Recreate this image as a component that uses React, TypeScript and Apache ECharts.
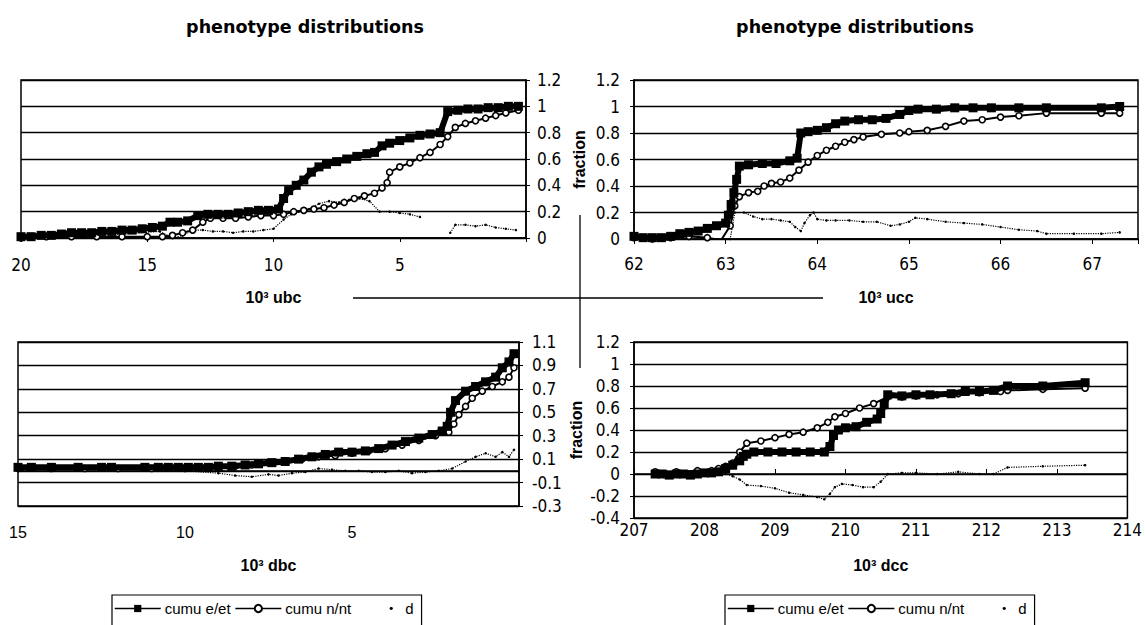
import React, { useEffect, useRef } from "react";
import * as echarts from "echarts";

// ---------- texts ----------
const chartTitle = "phenotype distributions";
const seriesNames = ["cumu e/et", "cumu n/nt", "d"];
const axisNames = ["10³ ubc", "10³ ucc", "10³ dbc", "10³ dcc"];
const yName = "fraction";

// ---------- top-left : ubc ----------
const ubcE = [[20.0,0.01],[19.6,0.01],[19.2,0.02],[18.8,0.02],[18.4,0.03],[18.0,0.04],[17.6,0.04],[17.2,0.04],[16.8,0.05],[16.4,0.05],[16.0,0.06],[15.6,0.06],[15.2,0.07],[14.8,0.08],[14.4,0.09],[14.1,0.12],[13.8,0.12],[13.4,0.13],[13.0,0.17],[12.6,0.18],[12.2,0.18],[11.8,0.18],[11.4,0.19],[11.0,0.2],[10.6,0.21],[10.2,0.21],[9.8,0.22],[9.6,0.3],[9.4,0.36],[9.1,0.4],[8.8,0.44],[8.5,0.5],[8.2,0.54],[7.9,0.56],[7.5,0.58],[7.1,0.6],[6.7,0.62],[6.3,0.64],[6.0,0.65],[5.7,0.7],[5.4,0.72],[5.0,0.74],[4.6,0.76],[4.2,0.78],[3.8,0.79],[3.4,0.8],[3.1,0.96],[2.7,0.97],[2.3,0.98],[1.9,0.98],[1.5,0.99],[1.1,0.99],[0.7,1.0],[0.3,1.0]];
const ubcN = [[20.0,0.0],[19.0,0.01],[18.0,0.01],[17.0,0.01],[16.0,0.01],[15.0,0.01],[14.4,0.01],[14.0,0.02],[13.6,0.04],[13.2,0.06],[12.8,0.12],[12.5,0.15],[12.0,0.15],[11.5,0.15],[11.0,0.16],[10.5,0.17],[10.0,0.17],[9.6,0.18],[9.2,0.2],[8.8,0.21],[8.4,0.22],[8.0,0.23],[7.6,0.25],[7.2,0.27],[6.8,0.3],[6.4,0.32],[6.0,0.34],[5.7,0.38],[5.5,0.42],[5.4,0.5],[5.0,0.54],[4.6,0.57],[4.2,0.61],[3.8,0.65],[3.4,0.71],[3.1,0.77],[2.8,0.84],[2.4,0.87],[2.0,0.89],[1.6,0.91],[1.2,0.93],[0.8,0.95],[0.3,0.97]];
const ubcD = [[20.0,0.01],[18.0,0.02],[16.0,0.03],[14.5,0.05],[14.0,0.0],[13.6,0.02],[13.2,0.06],[12.8,0.06],[12.4,0.05],[12.0,0.05],[11.6,0.04],[11.2,0.05],[10.8,0.05],[10.4,0.06],[10.0,0.07],[9.6,0.14],[9.3,0.18],[9.0,0.2],[8.6,0.22],[8.2,0.26],[7.8,0.28],[7.4,0.27],[7.0,0.29],[6.6,0.3],[6.2,0.28],[5.8,0.2],[5.4,0.2],[5.0,0.19],[4.6,0.18],[4.2,0.16],[3.6,"-"],[3.0,0.04],[2.8,0.1],[2.4,0.1],[2.0,0.09],[1.6,0.1],[1.2,0.08],[0.8,0.07],[0.4,0.06]];

// ---------- top-right : ucc ----------
const uccE = [[62.0,0.02],[62.1,0.01],[62.2,0.01],[62.3,0.01],[62.4,0.02],[62.5,0.04],[62.6,0.05],[62.7,0.06],[62.8,0.08],[62.9,0.1],[63.0,0.12],[63.03,0.18],[63.06,0.26],[63.09,0.35],[63.12,0.45],[63.15,0.55],[63.25,0.56],[63.4,0.57],[63.55,0.57],[63.7,0.59],[63.78,0.61],[63.82,0.8],[63.9,0.81],[64.0,0.82],[64.1,0.84],[64.2,0.87],[64.3,0.89],[64.45,0.9],[64.6,0.9],[64.75,0.91],[64.9,0.94],[65.0,0.97],[65.1,0.98],[65.3,0.98],[65.5,0.99],[65.7,0.99],[65.9,0.99],[66.2,0.99],[66.5,0.99],[67.1,0.99],[67.3,1.0]];
const uccN = [[62.0,0.01],[62.2,0.0],[62.4,0.01],[62.6,0.02],[62.8,0.01],[62.95,-0.01],[63.05,0.1],[63.1,0.25],[63.15,0.32],[63.25,0.35],[63.35,0.36],[63.42,0.4],[63.5,0.42],[63.6,0.43],[63.7,0.46],[63.8,0.52],[63.9,0.58],[64.0,0.63],[64.1,0.67],[64.2,0.7],[64.3,0.73],[64.4,0.75],[64.5,0.77],[64.7,0.79],[64.9,0.8],[65.0,0.81],[65.2,0.82],[65.4,0.85],[65.6,0.89],[65.8,0.9],[66.0,0.92],[66.2,0.93],[66.5,0.95],[67.1,0.95],[67.3,0.95]];
const uccD = [[62.0,0.01],[62.3,0.01],[62.6,0.02],[62.8,0.01],[62.95,-0.01],[63.05,0.0],[63.1,0.2],[63.2,0.2],[63.3,0.17],[63.4,0.15],[63.5,0.15],[63.6,0.14],[63.7,0.13],[63.76,0.09],[63.82,0.06],[63.86,0.12],[63.92,0.18],[63.96,0.2],[64.0,0.15],[64.1,0.14],[64.2,0.14],[64.35,0.14],[64.5,0.13],[64.65,0.13],[64.8,0.1],[64.9,0.11],[65.0,0.13],[65.07,0.16],[65.2,0.15],[65.4,0.13],[65.6,0.12],[65.8,0.11],[66.0,0.09],[66.2,0.07],[66.4,0.06],[66.5,0.04],[66.8,0.04],[67.1,0.04],[67.3,0.05]];

// ---------- bottom-left : dbc ----------
const dbcE = [[15.0,0.03],[14.6,0.03],[14.0,0.03],[13.2,0.03],[12.5,0.03],[12.2,0.03],[11.2,0.03],[10.8,0.03],[10.5,0.03],[10.2,0.03],[9.9,0.03],[9.6,0.03],[9.3,0.03],[9.0,0.04],[8.6,0.04],[8.2,0.05],[7.8,0.06],[7.4,0.07],[7.0,0.08],[6.6,0.1],[6.2,0.12],[5.8,0.14],[5.4,0.16],[5.0,0.16],[4.6,0.17],[4.2,0.19],[3.8,0.22],[3.4,0.25],[3.0,0.28],[2.6,0.31],[2.3,0.34],[2.15,0.38],[2.05,0.5],[1.9,0.6],[1.6,0.68],[1.3,0.72],[1.0,0.76],[0.7,0.8],[0.5,0.88],[0.3,0.93],[0.15,1.0]];
const dbcN = [[15.0,0.02],[14.0,0.02],[13.0,0.02],[12.0,0.02],[11.0,0.02],[10.0,0.02],[9.0,0.03],[8.5,0.04],[8.0,0.05],[7.5,0.07],[7.0,0.08],[6.5,0.1],[6.0,0.12],[5.5,0.13],[5.0,0.15],[4.5,0.17],[4.0,0.19],[3.5,0.22],[3.0,0.26],[2.5,0.3],[2.1,0.33],[1.95,0.4],[1.8,0.48],[1.6,0.55],[1.4,0.62],[1.1,0.68],[0.8,0.72],[0.5,0.76],[0.3,0.8],[0.15,0.88]];
const dbcD = [[15.0,0.0],[13.0,0.0],[11.0,0.0],[10.0,0.0],[9.0,-0.02],[8.5,-0.04],[8.0,-0.05],[7.5,-0.03],[7.2,-0.04],[6.8,-0.02],[6.4,-0.01],[6.0,0.02],[5.6,0.01],[5.2,0.0],[4.8,0.0],[4.4,-0.01],[4.0,-0.01],[3.6,0.0],[3.2,-0.02],[2.8,-0.01],[2.4,0.0],[2.0,0.02],[1.6,0.08],[1.3,0.12],[1.0,0.15],[0.7,0.12],[0.5,0.16],[0.3,0.12],[0.15,0.18]];

// ---------- bottom-right : dcc ----------
const dccE = [[207.3,0.0],[207.4,0.0],[207.5,-0.01],[207.6,0.0],[207.7,0.0],[207.8,-0.01],[207.9,0.0],[208.0,0.01],[208.1,0.01],[208.2,0.02],[208.3,0.05],[208.4,0.08],[208.5,0.12],[208.55,0.16],[208.6,0.18],[208.7,0.2],[208.9,0.2],[209.1,0.2],[209.3,0.2],[209.5,0.2],[209.7,0.2],[209.78,0.25],[209.83,0.35],[209.9,0.4],[210.0,0.42],[210.15,0.43],[210.3,0.47],[210.45,0.5],[210.5,0.55],[210.55,0.63],[210.6,0.72],[210.8,0.71],[211.0,0.72],[211.2,0.72],[211.5,0.73],[211.7,0.75],[211.9,0.75],[212.1,0.76],[212.3,0.8],[212.8,0.8],[213.4,0.83]];
const dccN = [[207.3,0.02],[207.6,0.02],[207.9,0.03],[208.1,0.03],[208.2,0.05],[208.3,0.07],[208.4,0.1],[208.5,0.2],[208.6,0.28],[208.8,0.3],[209.0,0.33],[209.2,0.36],[209.4,0.38],[209.6,0.42],[209.75,0.47],[209.85,0.52],[210.0,0.55],[210.2,0.6],[210.4,0.64],[210.6,0.7],[210.8,0.7],[211.0,0.71],[211.3,0.72],[211.6,0.73],[211.9,0.74],[212.2,0.75],[212.3,0.76],[212.8,0.77],[213.4,0.78]];
const dccD = [[207.3,0.02],[207.6,0.03],[207.9,0.02],[208.1,0.0],[208.3,0.0],[208.4,-0.02],[208.5,-0.05],[208.6,-0.1],[208.8,-0.11],[209.0,-0.13],[209.2,-0.17],[209.4,-0.19],[209.6,-0.21],[209.7,-0.23],[209.78,-0.18],[209.85,-0.12],[209.95,-0.09],[210.1,-0.1],[210.25,-0.12],[210.4,-0.12],[210.5,-0.07],[210.6,0.0],[210.8,0.01],[211.0,0.01],[211.3,0.0],[211.6,0.02],[211.9,0.0],[212.1,0.0],[212.3,0.06],[212.8,0.07],[213.4,0.08]];

const SANS = "'Liberation Sans', Arial, sans-serif";
const WIDE = "'DejaVu Sans', 'Liberation Sans', sans-serif";
const NARROW = "'Liberation Sans Narrow', 'DejaVu Sans Condensed', 'Liberation Sans', sans-serif";

const dotIcon =
  "image://data:image/svg+xml;charset=utf-8," +
  encodeURIComponent(
    "<svg xmlns='http://www.w3.org/2000/svg' width='46' height='10'><circle cx='36' cy='5' r='1.6' fill='black'/></svg>"
  );

function fmtY(v: number) {
  return String(Math.round(v * 10) / 10);
}

function makeSeries(idx: number, e: any[], n: any[], d: any[], zeroLine: boolean) {
  const dSeries: any = {
    name: seriesNames[2],
    type: "line",
    xAxisIndex: idx,
    yAxisIndex: idx,
    data: d,
    symbol: "circle",
    symbolSize: 2.5,
    showSymbol: true,
    itemStyle: { color: "#000" },
    lineStyle: { color: "#000", width: 1.2, type: "dotted" },
    connectNulls: false,
    z: 3,
  };
  if (zeroLine) {
    dSeries.markLine = {
      silent: true,
      symbol: ["none", "none"],
      label: { show: false },
      lineStyle: { color: "#000", width: 1.3, type: "solid" },
      data: [{ yAxis: 0 }],
    };
  }
  return [
    {
      name: seriesNames[0],
      type: "line",
      xAxisIndex: idx,
      yAxisIndex: idx,
      data: e,
      symbol: "rect",
      symbolSize: 9,
      itemStyle: { color: "#000" },
      lineStyle: { color: "#000", width: 6 },
      z: 5,
    },
    {
      name: seriesNames[1],
      type: "line",
      xAxisIndex: idx,
      yAxisIndex: idx,
      data: n,
      symbol: "circle",
      symbolSize: 6,
      itemStyle: { color: "#fff", borderColor: "#000", borderWidth: 1.6 },
      lineStyle: { color: "#000", width: 2 },
      z: 4,
    },
    dSeries,
  ];
}

export default function App() {
  const ref = useRef<HTMLDivElement>(null);
  useEffect(() => {
    if (!ref.current) return;
    const chart = echarts.init(ref.current, null, { renderer: "svg" });

    const grids = [
      { left: 21, top: 80, width: 505, height: 158 },
      { left: 634, top: 80, width: 504, height: 159 },
      { left: 18, top: 342, width: 501, height: 164 },
      { left: 634, top: 342, width: 498, height: 176 },
    ].map((g) => ({ ...g, show: true, borderColor: "#000", borderWidth: 1.5, backgroundColor: "#fff" }));

    const axisLine = { show: true, lineStyle: { color: "#000", width: 1.5 } };
    const splitLine = { show: true, lineStyle: { color: "#000", width: 1.3 } };
    const nameStyle = { fontFamily: SANS, fontWeight: "bold", fontSize: 16, color: "#000" };

    const xAxes = [
      {
        gridIndex: 0, type: "value", inverse: true, min: 0, max: 20, interval: 5,
        axisLine, splitLine: { show: false },
        axisTick: { show: true, length: 4, lineStyle: { color: "#000" } },
        axisLabel: { margin: 18, fontSize: 17, fontFamily: NARROW, color: "#000", formatter: (v: number) => (v === 0 ? "" : String(v)) },
        name: axisNames[0], nameLocation: "middle", nameGap: 51, nameTextStyle: nameStyle,
      },
      {
        gridIndex: 1, type: "value", min: 62, max: 67.5, interval: 1,
        axisLine, splitLine: { show: false },
        axisTick: { show: true, length: 5, lineStyle: { color: "#000" } },
        axisLabel: { margin: 16, fontSize: 17, fontFamily: NARROW, color: "#000", formatter: (v: number) => (Number.isInteger(v) ? String(v) : "") },
        name: axisNames[1], nameLocation: "middle", nameGap: 50, nameTextStyle: nameStyle,
      },
      {
        gridIndex: 2, type: "value", inverse: true, min: 0, max: 15, interval: 5,
        axisLine, splitLine: { show: false },
        axisTick: { show: false },
        axisLabel: { margin: 18, fontSize: 16, fontFamily: SANS, color: "#000", formatter: (v: number) => (v === 0 ? "" : String(v)) },
        name: axisNames[2], nameLocation: "middle", nameGap: 51, nameTextStyle: nameStyle,
      },
      {
        gridIndex: 3, type: "value", min: 207, max: 214, interval: 1,
        axisLine, splitLine: { show: false },
        axisTick: { show: true, inside: true, length: 5, lineStyle: { color: "#000" } },
        axisLabel: { margin: 3, fontSize: 17, fontFamily: NARROW, color: "#000" },
        name: axisNames[3], nameLocation: "middle", nameGap: 39, nameTextStyle: nameStyle,
      },
    ];

    const yLabel = { fontSize: 17, fontFamily: NARROW, color: "#000", formatter: fmtY };
    const yAxes = [
      {
        gridIndex: 0, type: "value", position: "right", min: 0, max: 1.2, interval: 0.2,
        axisLine, splitLine, axisTick: { show: true, length: 4, lineStyle: { color: "#000" } },
        axisLabel: { ...yLabel, margin: 11 },
      },
      {
        gridIndex: 1, type: "value", position: "left", min: 0, max: 1.2, interval: 0.2,
        axisLine, splitLine, axisTick: { show: true, length: 4, lineStyle: { color: "#000" } },
        axisLabel: { ...yLabel, margin: 14 },
        name: yName, nameLocation: "middle", nameGap: 47, nameTextStyle: nameStyle,
      },
      {
        gridIndex: 2, type: "value", position: "right", min: -0.3, max: 1.1, interval: 0.2,
        axisLine, splitLine, axisTick: { show: true, length: 4, lineStyle: { color: "#000" } },
        axisLabel: { ...yLabel, margin: 13 },
      },
      {
        gridIndex: 3, type: "value", position: "left", min: -0.4, max: 1.2, interval: 0.2,
        axisLine, splitLine, axisTick: { show: true, length: 4, lineStyle: { color: "#000" } },
        axisLabel: { ...yLabel, margin: 14 },
        name: yName, nameLocation: "middle", nameGap: 50, nameTextStyle: nameStyle,
      },
    ];

    const legendBase = {
      orient: "horizontal",
      top: 595,
      itemWidth: 46,
      itemHeight: 9,
      itemGap: 4,
      padding: [6, 8, 20, 2],
      borderColor: "#000",
      borderWidth: 1.2,
      backgroundColor: "#fff",
      selectedMode: false,
      lineStyle: { width: 1.5 },
      textStyle: { fontFamily: SANS, fontSize: 15, color: "#000", padding: [0, 0, 0, -1] },
      data: [
        { name: seriesNames[0] },
        { name: seriesNames[1] },
        { name: seriesNames[2], icon: dotIcon },
      ],
    };

    const lineStyleG = { stroke: "#000", lineWidth: 1.3 };
    const titleStyle = { fontFamily: WIDE, fontWeight: "bold", fontSize: 17.5, color: "#000" };

    chart.setOption({
      animation: false,
      backgroundColor: "#fff",
      title: [
        { text: chartTitle, left: 300, top: 13, textAlign: "center", textStyle: titleStyle },
        { text: chartTitle, left: 850, top: 13, textAlign: "center", textStyle: titleStyle },
      ],
      legend: [
        { ...legendBase, left: 112 },
        { ...legendBase, left: 725 },
      ],
      grid: grids,
      xAxis: xAxes,
      yAxis: yAxes,
      series: [
        ...makeSeries(0, ubcE, ubcN, ubcD, false),
        ...makeSeries(1, uccE, uccN, uccD, false),
        ...makeSeries(2, dbcE, dbcN, dbcD, true),
        ...makeSeries(3, dccE, dccN, dccD, false),
      ],
      graphic: [
        { type: "line", shape: { x1: 580, y1: 215, x2: 580, y2: 368 }, style: lineStyleG, silent: true },
        { type: "line", shape: { x1: 353, y1: 298, x2: 823, y2: 298 }, style: lineStyleG, silent: true },
      ],
    });

    return () => chart.dispose();
  }, []);

  return (
    <div
      ref={ref}
      style={{ position: "fixed", left: 0, top: 0, width: 1145, height: 625, background: "#fff" }}
    />
  );
}
